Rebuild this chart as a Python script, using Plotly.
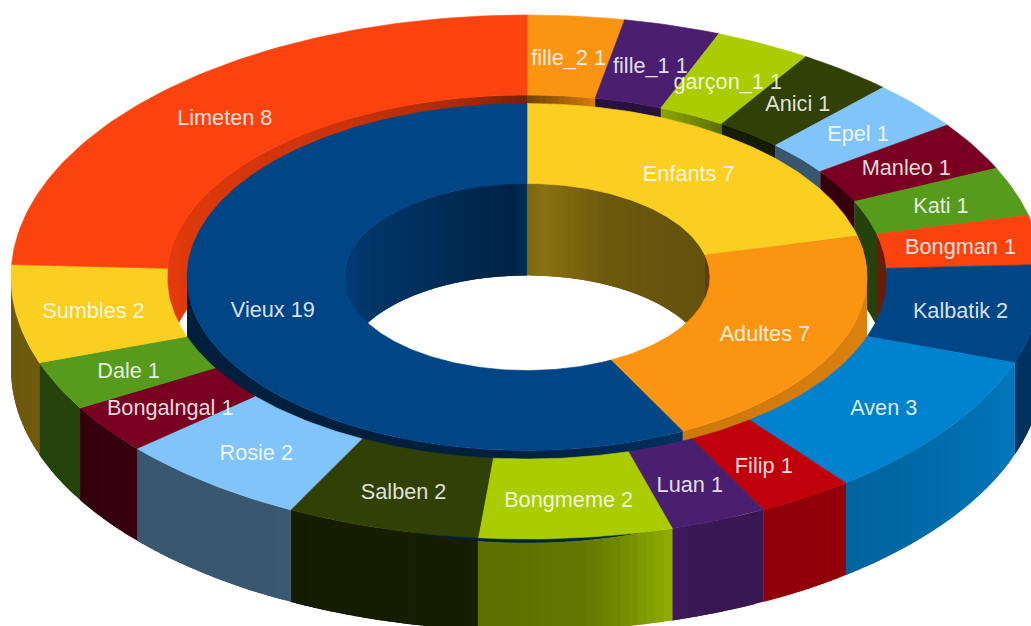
import math
import plotly.graph_objects as go

# ---- data ----
outer_names = ["fille_2", "fille_1", "garçon_1", "Anici", "Epel", "Manleo", "Kati", "Bongman",
               "Kalbatik", "Aven", "Filip", "Luan", "Bongmeme", "Salben", "Rosie", "Bongalngal",
               "Dale", "Sumbles", "Limeten"]
outer_values = [1, 1, 1, 1, 1, 1, 1, 1, 2, 3, 1, 1, 2, 2, 2, 1, 1, 2, 8]
outer_colors = ["#FB9410", "#4B1F6F", "#AACC00", "#314004", "#80C4FA", "#7A0021", "#569B1C", "#FC420E",
                "#004586", "#0082CE", "#C0000B", "#4B1F6F", "#AACC00", "#314004", "#80C4FA", "#7A0021",
                "#569B1C", "#FACF20", "#FC420E"]
inner_names = ["Enfants", "Adultes", "Vieux"]
inner_values = [7, 7, 19]
inner_colors = ["#FACF20", "#FB9410", "#004586"]

# ---- projection (pixel space of the axes) ----
CX, CY, DEPTH = 527.0, 277.0, 92.0
R_OUT = (516.0, 262.0)
R_GAP = (360.0, 182.0)
R_INN = (340.0, 173.5)
R_HOLE = (183.0, 93.5)
LABEL_DY = 3.5

# wall brightness against the angle
SH_OUTER = [(87, .8), (108, .72), (109.1, .92), (125, .84), (141, .77), (152, .75), (162, .78),
            (163.6, .86), (170, .66), (174, .58), (185, .55), (186, .46), (272, .43)]
SH_GAP = [(0, .45), (10.8, .85), (10.9, .55), (21.7, .55), (21.8, .82), (32.6, .55), (32.7, .45),
          (90, .42), (270, .92), (330, .8), (350, .66), (360, .48)]
SH_INN = [(76, .9), (152.6, .82), (152.7, .72), (170, .55), (185, .47), (272, .47)]
SH_HOLE = [(0, .5), (5, .55), (9, .53), (24, .44), (50, .41), (90, .4),
           (270, .9), (320, .72), (350, .55), (356, .52), (360, .68)]


def pt(radii, theta, dz=0.0):
    t = math.radians(theta)
    return CX + radii[0] * math.sin(t), CY - radii[1] * math.cos(t) + dz


def shade(col, f):
    r, g, b = int(col[1:3], 16), int(col[3:5], 16), int(col[5:7], 16)
    return "rgb(%d,%d,%d)" % (r * f, g * f, b * f)


def lookup(table, th):
    if th <= table[0][0]:
        return table[0][1]
    for (a, fa), (b, fb) in zip(table, table[1:]):
        if a <= th <= b:
            return fa + (fb - fa) * (th - a) / (b - a) if b > a else fb
    return table[-1][1]


def spans(values):
    total = sum(values)
    out, acc = [], 0
    for v in values:
        out.append((acc * 360 / total, (acc + v) * 360 / total))
        acc += v
    return out


def sub(a, b, step):
    n = max(1, math.ceil((b - a) / step))
    return [a + (b - a) * i / n for i in range(n + 1)]


fig = go.Figure()


def poly(pts, color, edge=0.0):
    fig.add_trace(go.Scatter(x=[p[0] for p in pts] + [pts[0][0]], y=[p[1] for p in pts] + [pts[0][1]],
                             mode="lines", fill="toself", fillcolor=color,
                             line=dict(color=color, width=edge), hoverinfo="skip", showlegend=False))


def walls(values, colors, radii, table, ranges, step=1.0):
    for (a, b), col in zip(spans(values), colors):
        for lo, hi in ranges:
            s, e = max(a, lo), min(b, hi)
            if e <= s:
                continue
            ts = sub(s, e, step)
            for t0, t1 in zip(ts, ts[1:]):
                f = lookup(table, (t0 + t1) / 2)
                over = min(e, t1 + 1.2)          # each strip runs under the next one
                mids = sub(t0, over, 0.6)
                poly([pt(radii, t) for t in mids] + [pt(radii, t, DEPTH) for t in reversed(mids)],
                     shade(col, f))


def tops(values, colors, r_out, r_in):
    for (a, b), col in zip(spans(values), colors):
        ts = sub(a, b, 1.0)
        poly([pt(r_out, t) for t in ts] + [pt(r_in, t) for t in reversed(ts)], col, 0.6)


FRONT = [(90, 272)]
BACK = [(0, 90), (270, 360)]

walls(outer_values, outer_colors, R_OUT, SH_OUTER, FRONT)
walls(outer_values, outer_colors, R_GAP, SH_GAP, BACK)
walls(inner_values, inner_colors, R_INN, SH_INN, [(76, 272)])
walls(inner_values, inner_colors, R_HOLE, SH_HOLE, BACK)
tops(outer_values, outer_colors, R_OUT, R_GAP)
tops(inner_values, inner_colors, R_INN, R_HOLE)


def labels(values, names, r_out, r_in):
    mid = ((r_out[0] + r_in[0]) / 2, (r_out[1] + r_in[1]) / 2)
    xs, ys, tx = [], [], []
    for (a, b), n, v in zip(spans(values), names, values):
        x, y = pt(mid, (a + b) / 2, LABEL_DY)
        xs.append(x)
        ys.append(y)
        tx.append(f"{n} {v}")
    fig.add_trace(go.Scatter(x=xs, y=ys, text=tx, mode="text", textposition="middle center",
                             textfont=dict(family="Liberation Sans", size=21.7,
                                           color="rgba(255,255,255,0.86)"),
                             hoverinfo="skip", showlegend=False))


labels(outer_values, outer_names, R_OUT, R_GAP)
labels(inner_values, inner_names, R_INN, R_HOLE)

fig.update_layout(width=1031, height=626, margin=dict(l=0, r=0, t=0, b=0),
                  paper_bgcolor="white", plot_bgcolor="white",
                  xaxis=dict(range=[0, 1031], visible=False, fixedrange=True),
                  yaxis=dict(range=[626, 0], visible=False, fixedrange=True),
                  showlegend=False)
fig.write_html("out.html", config=dict(displayModeBar=False),
               post_script="document.body.style.margin='0';document.body.style.overflow='hidden';")
